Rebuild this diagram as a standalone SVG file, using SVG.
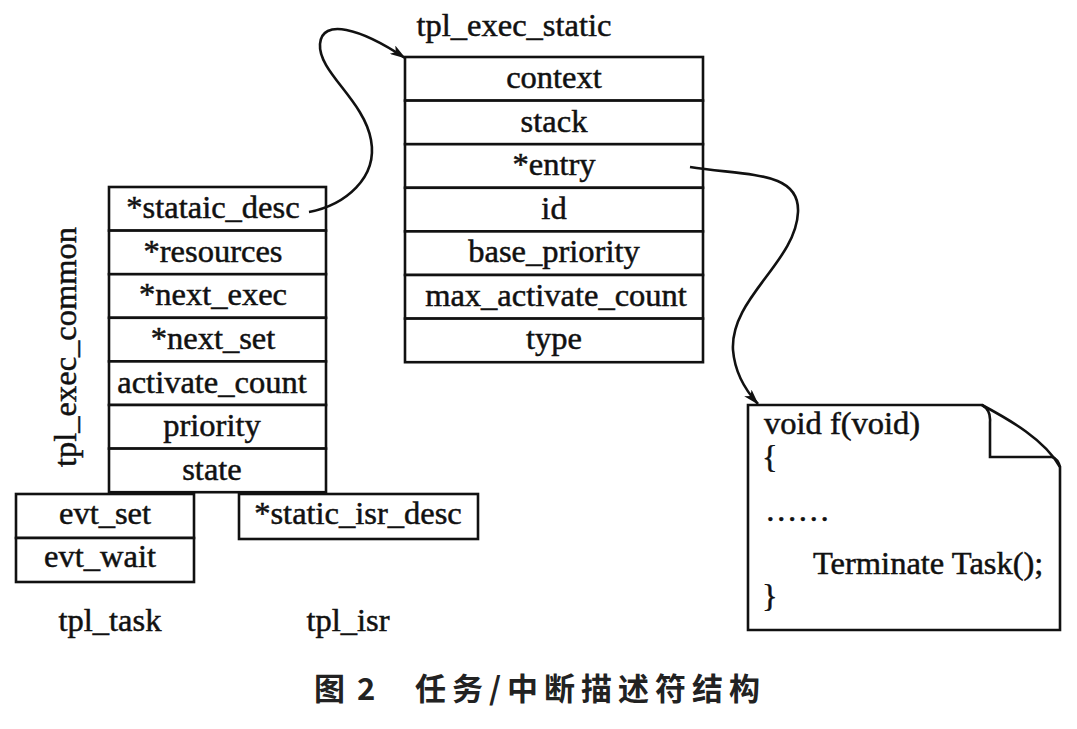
<svg xmlns="http://www.w3.org/2000/svg" width="1077" height="729" viewBox="0 0 1077 729">
<style>
.cell{fill:#fff;stroke:#111;stroke-width:2.6}
.t{font-family:"Liberation Serif","Times New Roman",serif;font-size:32.5px;fill:#111;stroke:#111;stroke-width:0.5}
.c{text-anchor:middle}
.conn{fill:none;stroke:#111;stroke-width:2.6}
.cap{font-family:"Noto Sans CJK SC","Noto Sans",sans-serif;font-weight:bold;font-size:31px;fill:#222}
</style>
<defs>
<marker id="ah" viewBox="0 0 16 10" refX="15" refY="5" markerWidth="16" markerHeight="10" markerUnits="userSpaceOnUse" orient="auto">
<path d="M0 0 L16 5 L0 10 L4 5 Z" fill="#111"/>
</marker>
</defs>
<rect width="1077" height="729" fill="#fff"/>

<g id="tpl_exec_static">
<text class="t c" x="514" y="36">tpl_exec_static</text>
<rect class="cell" x="405" y="57" width="298" height="43.6"/>
<rect class="cell" x="405" y="100.6" width="298" height="43.6"/>
<rect class="cell" x="405" y="144.2" width="298" height="43.6"/>
<rect class="cell" x="405" y="187.8" width="298" height="43.6"/>
<rect class="cell" x="405" y="231.4" width="298" height="43.6"/>
<rect class="cell" x="405" y="275" width="298" height="43.6"/>
<rect class="cell" x="405" y="318.6" width="298" height="43.6"/>
<text class="t c" x="554" y="88">context</text>
<text class="t c" x="554" y="132">stack</text>
<text class="t c" x="554" y="175">*entry</text>
<text class="t c" x="554" y="219">id</text>
<text class="t c" x="554" y="262">base_priority</text>
<text class="t c" x="556" y="306">max_activate_count</text>
<text class="t c" x="554" y="349">type</text>
</g>

<g id="tpl_exec_common">
<text class="t c" transform="translate(76,347) rotate(-90)">tpl_exec_common</text>
<rect class="cell" x="109" y="187" width="217" height="43.6"/>
<rect class="cell" x="109" y="230.6" width="217" height="43.6"/>
<rect class="cell" x="109" y="274.2" width="217" height="43.6"/>
<rect class="cell" x="109" y="317.8" width="217" height="43.6"/>
<rect class="cell" x="109" y="361.4" width="217" height="43.6"/>
<rect class="cell" x="109" y="405" width="217" height="43.6"/>
<rect class="cell" x="109" y="448.6" width="217" height="43.6"/>
<text class="t c" x="213" y="218">*stataic_desc</text>
<text class="t c" x="213" y="262">*resources</text>
<text class="t c" x="213" y="305">*next_exec</text>
<text class="t c" x="213" y="349">*next_set</text>
<text class="t c" x="212" y="393">activate_count</text>
<text class="t c" x="212" y="436">priority</text>
<text class="t c" x="212" y="480">state</text>
</g>

<g id="tpl_task">
<rect class="cell" x="16" y="494" width="178" height="44"/>
<rect class="cell" x="16" y="538" width="178" height="44"/>
<text class="t c" x="105" y="524">evt_set</text>
<text class="t c" x="100" y="567">evt_wait</text>
<text class="t c" x="110" y="631">tpl_task</text>
</g>

<g id="tpl_isr">
<rect class="cell" x="239" y="494" width="239" height="45"/>
<text class="t c" x="358" y="524">*static_isr_desc</text>
<text class="t c" x="348" y="631">tpl_isr</text>
</g>

<g id="function_note">
<path class="cell" d="M748 405 L982 405 C1010 420 1045 440 1060 467 L1060 630 L748 630 Z"/>
<path class="conn" d="M982 405 Q991 410 990 422 L990 457 L1052 457 Q1058 459 1060 467"/>
<text class="t" x="764" y="434">void f(void)</text>
<text class="t" x="762" y="468">{</text>
<text class="t" x="765" y="521">……</text>
<text class="t" x="813" y="574">Terminate Task();</text>
<text class="t" x="762" y="607">}</text>
</g>

<g id="connectors">
<path class="conn" marker-end="url(#ah)" d="M309 212 C345 205 378 178 371 140 C364 100 318 72 320 44 C322 18 360 28 405 58"/>
<path class="conn" marker-end="url(#ah)" d="M690 167 C745 176 800 170 798 212 C796 262 730 298 733 350 C735 375 747 392 758 404"/>
</g>

<g id="caption">
<text class="cap" x="314" y="700">图</text>
<text class="cap" x="357" y="700" font-family="Liberation Sans,Arial,sans-serif">2</text>
<text class="cap" x="415" y="700" letter-spacing="6">任务/中断描述符结构</text>
</g>
</svg>
